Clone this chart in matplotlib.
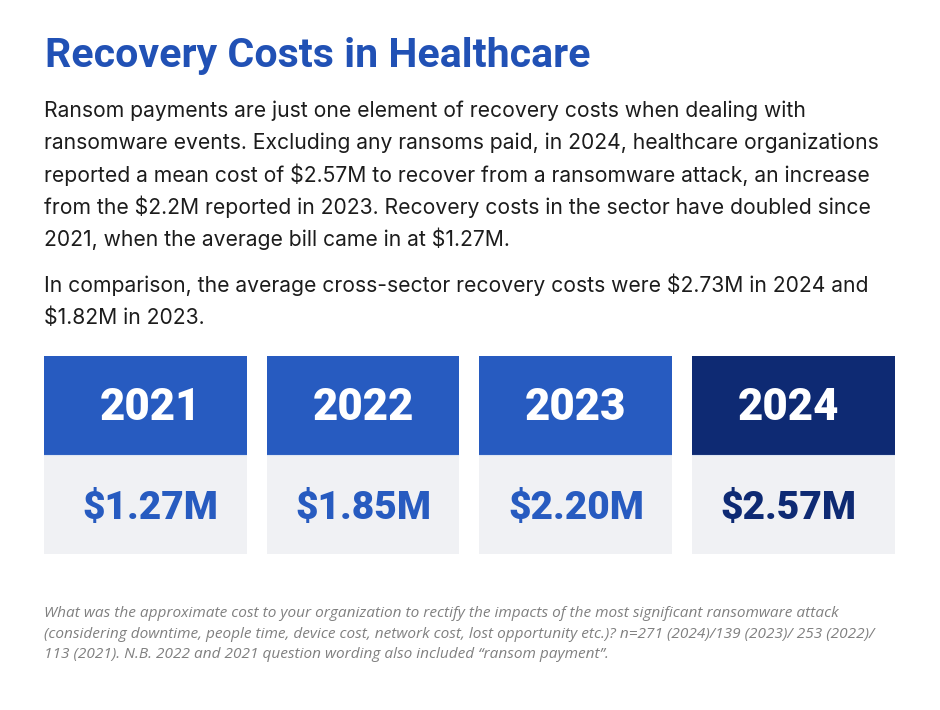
import matplotlib.pyplot as plt

# data
years = ["2021", "2022", "2023", "2024"]
costs = ["$1.27M", "$1.85M", "$2.20M", "$2.57M"]
header_colors = ["#275bc0", "#275bc0", "#275bc0", "#0e2a73"]
cost_colors = ["#275bc0", "#275bc0", "#275bc0", "#0e2a73"]

title = "Recovery Costs in Healthcare"
body_lines = [
    "Ransom payments are just one element of recovery costs when dealing with",
    "ransomware events. Excluding any ransoms paid, in 2024, healthcare organizations",
    "reported a mean cost of $2.57M to recover from a ransomware attack, an increase",
    "from the $2.2M reported in 2023. Recovery costs in the sector have doubled since",
    "2021, when the average bill came in at $1.27M.",
]
body_lines2 = [
    "In comparison, the average cross-sector recovery costs were $2.73M in 2024 and",
    "$1.82M in 2023.",
]
note_lines = [
    "What was the approximate cost to your organization to rectify the impacts of the most significant ransomware attack",
    "(considering downtime, people time, device cost, network cost, lost opportunity etc.)? n=271 (2024)/139 (2023)/ 253 (2022)/",
    "113 (2021). N.B. 2022 and 2021 question wording also included \u201cransom payment\u201d.",
]

W, H = 940, 710
fig = plt.figure(figsize=(W / 100, H / 100), dpi=100)
fig.patch.set_facecolor("white")


def fx(x):
    return x / W


def fy(y):
    return 1 - y / H


fig.text(fx(45), fy(67), title, fontsize=29.6, fontweight="bold",
         color="#2151b5", family="Roboto", va="baseline")

for i, line in enumerate(body_lines):
    fig.text(fx(44), fy(117 + i * 32.3), line, fontsize=15.2,
             color="#1c1c1c", family="Inter", va="baseline")
for i, line in enumerate(body_lines2):
    fig.text(fx(44), fy(292 + i * 32.3), line, fontsize=15.2,
             color="#1c1c1c", family="Inter", va="baseline")

for i, line in enumerate(note_lines):
    fig.text(fx(44), fy(617 + i * 20.7), line, fontsize=11.1, style="italic",
             color="#808080", family="Open Sans", va="baseline")

# boxes
ax = fig.add_axes([fx(44), fy(554), (895 - 44) / W, (554 - 356) / H])
x = range(len(years))
ax.bar(x, 0.5, bottom=0.5, width=1, color=header_colors)
ax.bar(x, 0.5, bottom=0, width=1, color="#f0f1f4")
ax.axhline(0.5, color="#dde5f3", lw=0.8)
for b in [0.5, 1.5, 2.5]:
    ax.axvline(b, color="white", lw=14.4)
for i in x:
    ax.text(i, 0.735, years[i], ha="center", va="center", fontsize=31.5,
            fontweight="heavy", color="white", family="Roboto")
    ax.text(i, 0.23, costs[i], ha="center", va="center", fontsize=28,
            fontweight="heavy", color=cost_colors[i], family="Roboto")
ax.set_xlim(-0.5, 3.5)
ax.set_ylim(0, 1)
ax.axis("off")

plt.savefig("out.png", dpi=100)
plt.close("all")
